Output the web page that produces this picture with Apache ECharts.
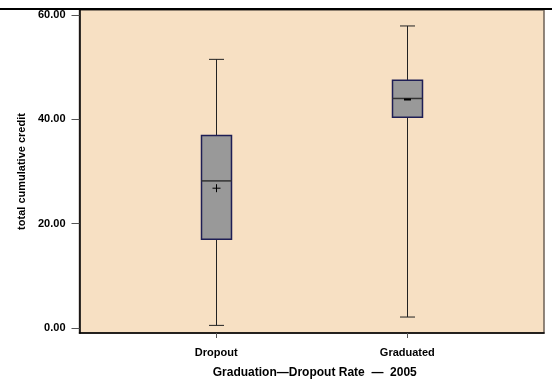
<!DOCTYPE html>
<html>
<head>
<meta charset="utf-8">
<script src="https://cdn.jsdelivr.net/npm/echarts@6/dist/echarts.min.js"></script>
<style>
  html, body { margin: 0; padding: 0; background: #ffffff; }
  #chart { width: 552px; height: 383px; }
</style>
</head>
<body>
<div id="chart"></div>
<script>
// Box-and-whisker summary of total cumulative credit by outcome group
const categories = ['Dropout', 'Graduated'];
const lowWhisker = [0.5, 2.1];
const q1 = [17.0, 40.4];
const median = [28.2, 44.0];
const q3 = [36.9, 47.5];
const highWhisker = [51.5, 57.9];
const mean = [26.8, 43.8];
const yTicks = [0, 20, 40, 60];
const meanMarker = ['plus', 'dash'];

const boxData = categories.map((c, i) => [i + 1, lowWhisker[i], q1[i], median[i], q3[i], highWhisker[i], mean[i]]);
const catPositions = categories.map((c, i) => i + 1);

const FONT = '"Liberation Sans", Arial, Helvetica, sans-serif';
const chart = echarts.init(document.getElementById('chart'), null, { renderer: 'canvas' });

function renderBox(params, api) {
  const xv = api.value(0);
  const pt = v => api.coord([xv, v]);
  const cx = Math.round(pt(0)[0]) + 0.5;
  const yLo = pt(api.value(1))[1];
  const yQ1 = pt(api.value(2))[1];
  const yMd = pt(api.value(3))[1];
  const yQ3 = pt(api.value(4))[1];
  const yHi = pt(api.value(5))[1];
  const yMn = pt(api.value(6))[1];
  const half = 15, cap = 7.5;
  const whisker = { stroke: '#222222', lineWidth: 1 };
  const children = [
    { type: 'line', shape: { x1: cx, y1: yHi, x2: cx, y2: yQ3 }, style: whisker },
    { type: 'line', shape: { x1: cx, y1: yQ1, x2: cx, y2: yLo }, style: whisker },
    { type: 'line', shape: { x1: cx - cap, y1: yHi, x2: cx + cap, y2: yHi }, style: whisker },
    { type: 'line', shape: { x1: cx - cap, y1: yLo, x2: cx + cap, y2: yLo }, style: whisker },
    { type: 'rect', shape: { x: cx - half, y: yQ3, width: half * 2, height: yQ1 - yQ3 },
      style: { fill: '#999999', stroke: '#1e1e55', lineWidth: 1.5 } },
    { type: 'line', shape: { x1: cx - half, y1: yMd, x2: cx + half, y2: yMd },
      style: { stroke: '#333333', lineWidth: 1.5 } }
  ];
  const mk = meanMarker[params.dataIndex];
  if (mk === 'plus') {
    children.push({ type: 'line', shape: { x1: cx - 4, y1: yMn, x2: cx + 4, y2: yMn }, style: { stroke: '#000', lineWidth: 1 } });
    children.push({ type: 'line', shape: { x1: cx, y1: yMn - 4, x2: cx, y2: yMn + 4 }, style: { stroke: '#000', lineWidth: 1 } });
  } else {
    children.push({ type: 'line', shape: { x1: cx - 3.5, y1: yMn, x2: cx + 3.5, y2: yMn }, style: { stroke: '#000', lineWidth: 2 } });
  }
  return { type: 'group', children };
}

chart.setOption({
  animation: false,
  backgroundColor: '#ffffff',
  grid: {
    left: 79.5, right: 8, top: 10, bottom: 50,
    outerBoundsMode: 'none',
    show: true, backgroundColor: '#f7e0c3', borderColor: '#6e6257', borderWidth: 1.5
  },
  graphic: [
    { type: 'line', shape: { x1: 0, y1: 9, x2: 552, y2: 9 }, style: { stroke: '#000000', lineWidth: 2 }, z: 100 }
  ],
  xAxis: {
    type: 'value',
    min: 0.285, max: 2.715,
    splitLine: { show: false },
    axisLine: { show: true, onZero: false, lineStyle: { color: '#000000', width: 1.5 } },
    axisTick: { show: true, length: 5, customValues: catPositions, lineStyle: { color: '#555555' } },
    axisLabel: {
      customValues: catPositions,
      formatter: v => categories[Math.round(v) - 1] || '',
      color: '#000', fontFamily: FONT, fontWeight: 'bold', fontSize: 11, margin: 14
    },
    name: 'Graduation\u2014Dropout Rate  \u2014  2005',
    nameLocation: 'middle', nameGap: 34,
    nameTextStyle: { color: '#000', fontFamily: FONT, fontWeight: 'bold', fontSize: 12, padding: [0, 0, 0, 6] }
  },
  yAxis: {
    type: 'value',
    min: -0.96, max: 60.96,
    splitLine: { show: false },
    axisLine: { show: true, onZero: false, lineStyle: { color: '#000000', width: 1.5 } },
    axisTick: { show: true, length: 8, customValues: yTicks, lineStyle: { color: '#555555' } },
    axisLabel: {
      customValues: yTicks,
      formatter: v => v.toFixed(2),
      color: '#000', fontFamily: FONT, fontWeight: 'bold', fontSize: 11, margin: 14
    },
    name: 'total cumulative credit',
    nameLocation: 'middle', nameGap: 48,
    nameTextStyle: { color: '#000', fontFamily: FONT, fontWeight: 'bold', fontSize: 11 }
  },
  series: [{
    type: 'custom',
    renderItem: renderBox,
    data: boxData,
    encode: { x: 0, y: [1, 2, 3, 4, 5, 6] },
    clip: false
  }]
});
</script>
</body>
</html>
